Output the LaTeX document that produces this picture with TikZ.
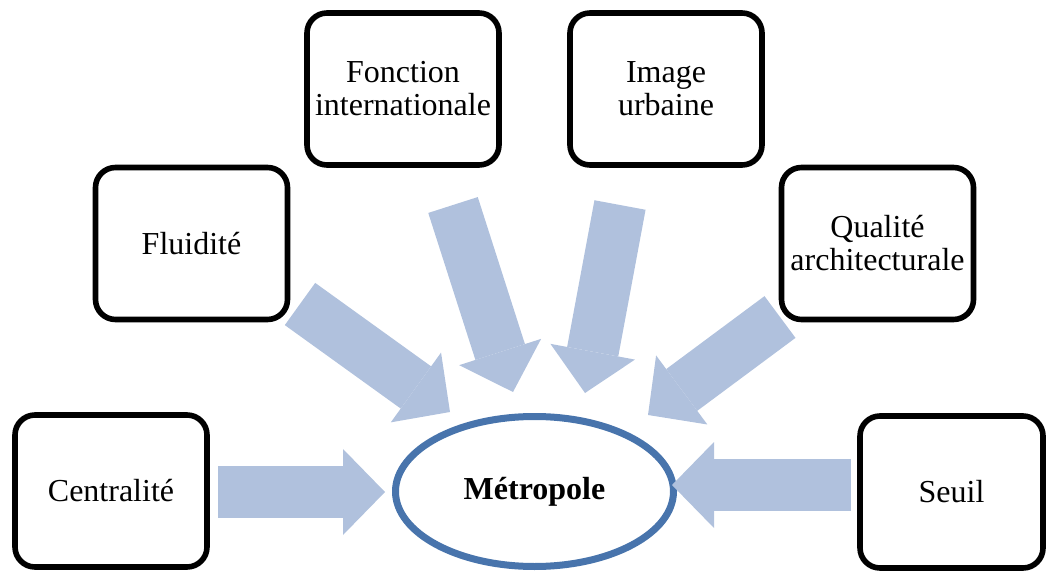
\documentclass[tikz,border=0pt]{standalone}
\usepackage{fontspec}
\setmainfont{Liberation Serif}
\usepackage{tikz}
\usetikzlibrary{arrows.meta,shapes.geometric,positioning}
\definecolor{fleche}{RGB}{176,193,221}
\definecolor{bord}{RGB}{72,116,172}

\begin{document}
\begin{tikzpicture}[x=0.5pt,y=0.5pt,
bloc/.style={
		draw=black,
		line width=2.8pt,
		rounded corners=10pt,
		minimum width=96pt,
		minimum height=76pt,
		inner sep=0pt,
		align=center,
		font=\fontsize{16}{16.5}\selectfont,
		},
pole/.style={
		ellipse,
		draw=bord,
		line width=3.5pt,
		minimum width=139pt,
		minimum height=75pt,
		font=\fontsize{16}{16.5}\selectfont\bfseries,
		},
grosse/.style={
		draw=fleche,
		line width=26pt,
		-{Triangle[width=43pt,length=21pt,line width=0pt,fill=fleche]},
		}
]
\useasboundingbox (0,0) rectangle (1048,573);

% les facteurs
\node[bloc] (cen) at (111,82) {Centralité};
\node[bloc] (flu) at (191.5,329.5) {Fluidité};
\node[bloc] (fon) at (403,484) {Fonction\\internationale};
\node[bloc] (ima) at (666,484) {Image\\urbaine};
\node[bloc] (qua) at (877.5,329.5) {Qualité\\architecturale};
\node[bloc, minimum width=91.5pt] (seu) at (951.5,81) {Seuil};

% le centre
\node[pole] (met) at (534.5,81.5) {Métropole};

% les fleches
\coordinate (cen-a) at (218,81);  \coordinate (cen-b) at (385,81);
\coordinate (seu-a) at (851,88);  \coordinate (seu-b) at (672,88);
\coordinate (qua-a) at (780,256); \coordinate (qua-b) at (648,158);
\coordinate (flu-a) at (300,269); \coordinate (flu-b) at (450,161);
\coordinate (fon-a) at (453,368); \coordinate (fon-b) at (513,181);
\coordinate (ima-a) at (620,368); \coordinate (ima-b) at (585,180);

\foreach \f in {cen,seu,qua,flu,fon,ima}
{
  \draw[grosse] (\f-a) -- (\f-b);
}

\end{tikzpicture}
\end{document}
